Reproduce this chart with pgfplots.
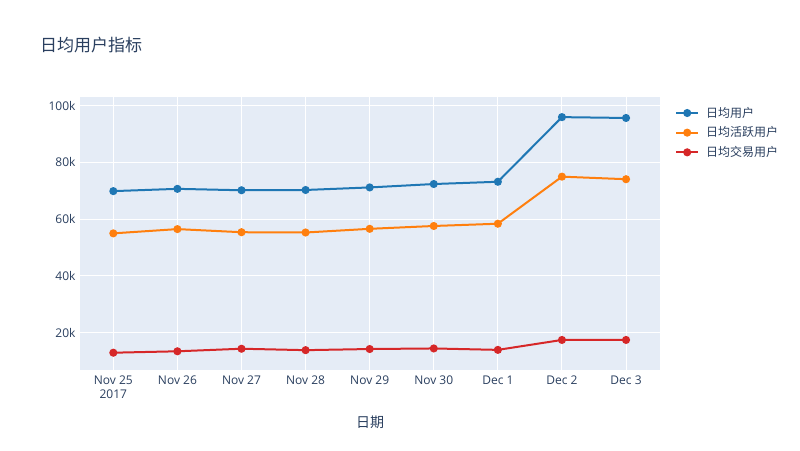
\documentclass[border=0pt]{standalone}
\usepackage{fontspec}
\setmainfont{Open Sans}
\newfontfamily\cjk{Noto Sans CJK SC}
\usepackage{pgfplots}
\pgfplotsset{compat=1.18}
\definecolor{bg}{HTML}{E5ECF6}
\definecolor{txt}{HTML}{2A3F5F}
\definecolor{c1}{HTML}{1F77B4}
\definecolor{c2}{HTML}{FF7F0E}
\definecolor{c3}{HTML}{D62728}
\begin{document}
\begin{tikzpicture}[x=1pt,y=1pt]
\fill[white] (0,0) rectangle (800,450);
\begin{axis}[at={(370pt,216.5pt)}, anchor=center, scale only axis,
  width=580pt, height=273pt,
  xmin=-0.52, xmax=8.53, ymin=6800, ymax=103100,
  axis background/.style={fill=bg},
  axis line style={draw=none},
  grid=major, grid style={white, line width=1pt},
  major tick length=0pt,
  xtick={0,...,8},
  xticklabels={{Nov 25\\2017},Nov 26,Nov 27,Nov 28,Nov 29,Nov 30,Dec 1,Dec 2,Dec 3},
  ytick={20000,40000,60000,80000,100000},
  yticklabels={20k,40k,60k,80k,100k},
  scaled y ticks=false,
  tick label style={font=\fontsize{12}{14}\selectfont, text=txt},
  xticklabel style={align=center, anchor=north, yshift=-2pt},
  yticklabel style={anchor=east, xshift=-1pt},
  legend style={at={(1,1)}, anchor=north west, xshift=12pt, yshift=-6pt, draw=none, fill=none,
    font=\cjk\fontsize{12}{14}\selectfont, text=txt, row sep=4pt,
    /tikz/every odd column/.append style={column sep=5pt}},
  legend cell align=left,
  legend image code/.code={\draw[mark repeat=2,mark phase=2,#1] plot coordinates {(0pt,0pt) (11pt,0pt) (22pt,0pt)};},
  every axis plot/.append style={line width=2pt, mark=*, mark size=3pt, mark options={solid}},
]
\addplot[c1] coordinates {(0,69900) (1,70700) (2,70200) (3,70300) (4,71200) (5,72400) (6,73200) (7,96000) (8,95700)};
\addlegendentry{日均用户}
\addplot[c2] coordinates {(0,55000) (1,56500) (2,55400) (3,55300) (4,56600) (5,57600) (6,58400) (7,75000) (8,74100)};
\addlegendentry{日均活跃用户}
\addplot[c3] coordinates {(0,12900) (1,13400) (2,14300) (3,13800) (4,14200) (5,14400) (6,13900) (7,17400) (8,17400)};
\addlegendentry{日均交易用户}
\end{axis}
\node[anchor=west, font=\cjk\fontsize{17}{20}\selectfont, text=txt, inner sep=0] at (40,405) {日均用户指标};
\node[anchor=center, font=\cjk\fontsize{14}{16}\selectfont, text=txt, inner sep=0] at (370,28) {日期};
\end{tikzpicture}
\end{document}
